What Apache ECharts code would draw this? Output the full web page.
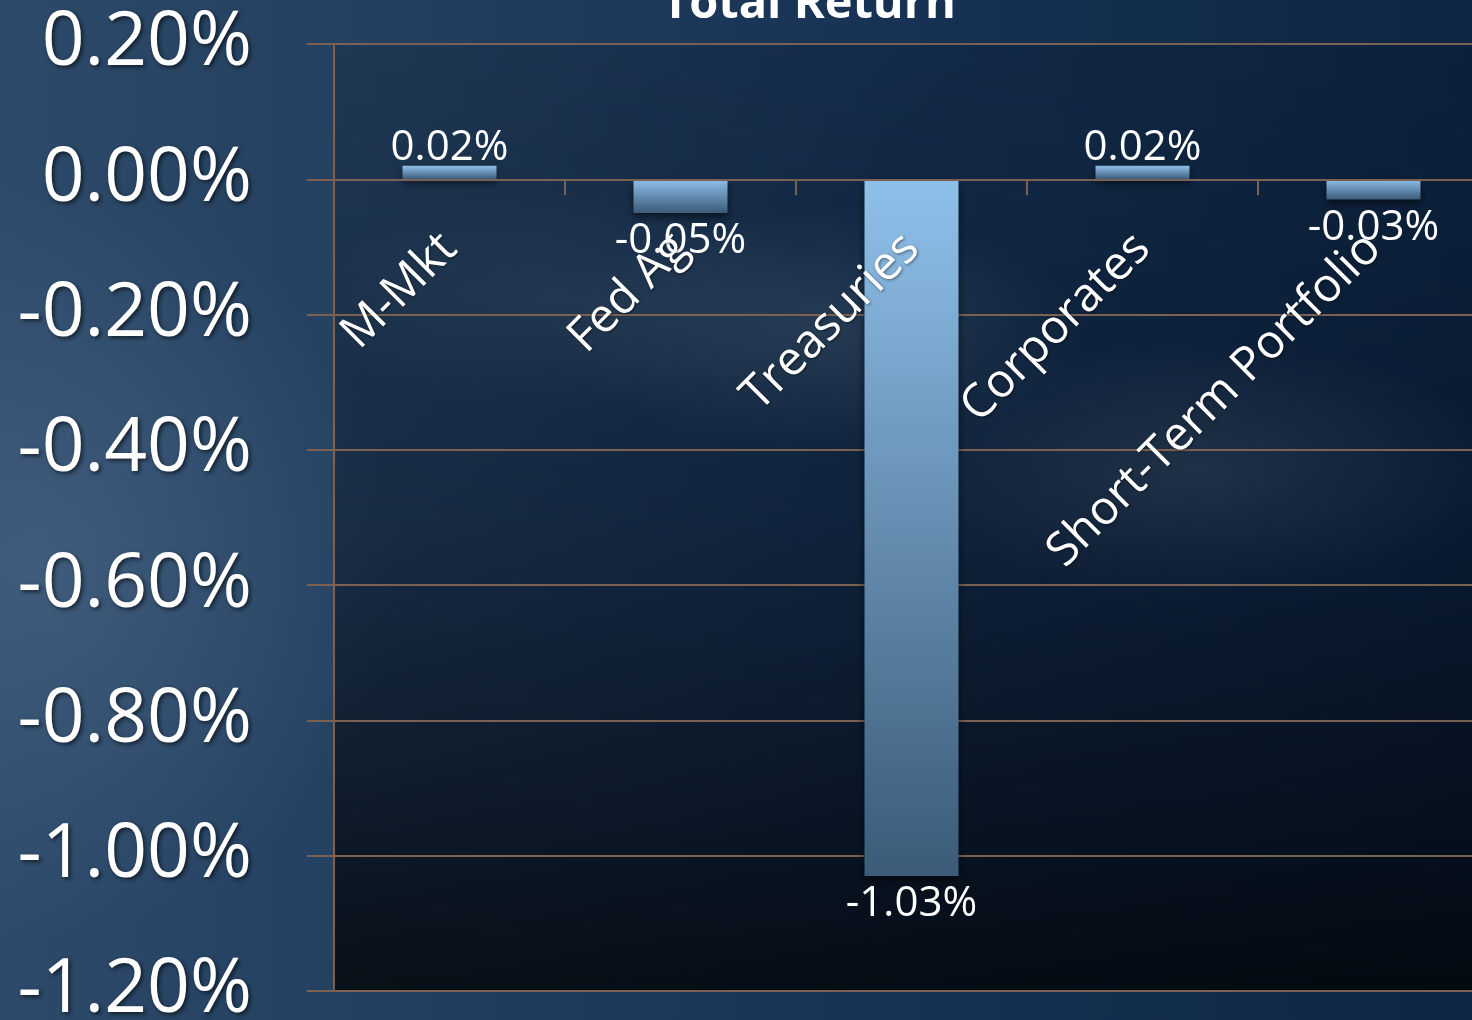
<!DOCTYPE html>
<html>
<head>
<meta charset="utf-8">
<script src="https://cdn.jsdelivr.net/npm/echarts@6/dist/echarts.min.js"></script>
<style>
html,body{margin:0;padding:0;width:1472px;height:1020px;overflow:hidden;}
#bg{position:absolute;left:0;top:0;width:1472px;height:1020px;
background:
 radial-gradient(ellipse 260px 120px at 820px 330px, rgba(95,120,145,0.40), rgba(95,120,145,0) 100%),
 radial-gradient(ellipse 300px 130px at 1200px 470px, rgba(100,120,140,0.35), rgba(100,120,140,0) 100%),
 radial-gradient(ellipse 260px 110px at 560px 300px, rgba(90,115,140,0.25), rgba(90,115,140,0) 100%),
 radial-gradient(ellipse 360px 380px at 40px 560px, rgba(80,108,140,0.55), rgba(80,108,140,0) 100%),
 linear-gradient(to right, #2d4a6a 0%, #223e5e 30%, #173254 60%, #0e2644 100%);
}
#chart{position:absolute;left:0;top:0;width:1472px;height:1020px;}
</style>
</head>
<body>
<div id="bg"></div>
<div id="chart"></div>
<script>
const categories = ['M-Mkt', 'Fed Ag', 'Treasuries', 'Corporates', 'Short-Term Portfolio'];
const totalReturn = [0.02, -0.05, -1.03, 0.02, -0.03];
const yTicks = { min: -1.2, max: 0.2, interval: 0.2 };
const titleText = 'Total Return';

const FONT = '"Open Sans", "Noto Sans", sans-serif';
const chart = echarts.init(document.getElementById('chart'), null, { renderer: 'canvas' });

const fmtPct = v => {
  if (Math.abs(v) < 1e-9) v = 0;
  return v.toFixed(2) + '%';
};

const barData = totalReturn.map(v => ({
  value: v,
  label: { position: v >= 0 ? 'top' : 'bottom' }
}));

const GRID_TOP = 44, GRID_BOTTOM = 29, H = 1020;
const gridH = H - GRID_TOP - GRID_BOTTOM;
// distance from grid bottom up to the zero line (layout only)
const zeroOffset = gridH * (0 - yTicks.min) / (yTicks.max - yTicks.min);
const LINE = '#7a6152';

chart.setOption({
  backgroundColor: 'transparent',
  title: {
    text: titleText,
    left: 804,
    textAlign: 'center',
    top: -24,
    textStyle: { color: '#ffffff', fontFamily: FONT, fontWeight: 'bold', fontSize: 47 }
  },
  grid: {
    left: 334, right: -17, top: GRID_TOP, bottom: GRID_BOTTOM,
    containLabel: false,
    outerBoundsMode: 'none',
    show: true,
    borderWidth: 0,
    backgroundColor: new echarts.graphic.LinearGradient(0, 0, 0, 1, [
      { offset: 0, color: 'rgba(2,6,14,0.15)' },
      { offset: 0.5, color: 'rgba(2,6,14,0.35)' },
      { offset: 1, color: 'rgba(0,0,0,0.75)' }
    ])
  },
  xAxis: {
    type: 'category',
    data: categories,
    offset: -zeroOffset,
    z: 5,
    axisLine: { show: true, onZero: false, lineStyle: { color: LINE, width: 2 } },
    axisTick: { show: true, length: 16, lineStyle: { color: LINE, width: 2 } },
    axisLabel: {
      rotate: 45, margin: 62, interval: 0,
      color: '#ffffff', fontFamily: FONT, fontSize: 47,
      textShadowColor: 'rgba(0,0,0,0.45)', textShadowBlur: 3, textShadowOffsetX: 1, textShadowOffsetY: 1
    },
    splitLine: { show: false }
  },
  yAxis: {
    type: 'value',
    min: yTicks.min, max: yTicks.max, interval: yTicks.interval,
    axisLine: { show: true, lineStyle: { color: LINE, width: 2 } },
    axisTick: { show: true, length: 27, lineStyle: { color: LINE, width: 2 } },
    splitLine: { show: true, lineStyle: { color: LINE, width: 2 } },
    axisLabel: {
      margin: 82,
      formatter: fmtPct,
      color: '#ffffff', fontFamily: FONT, fontSize: 75,
      textShadowColor: 'rgba(0,0,0,0.6)', textShadowBlur: 4, textShadowOffsetX: 2, textShadowOffsetY: 2
    }
  },
  series: [{
    type: 'bar',
    data: barData,
    barWidth: '40.7%',
    itemStyle: {
      color: new echarts.graphic.LinearGradient(0, 0, 0, 1, [
        { offset: 0, color: '#8fc0ea' },
        { offset: 1, color: '#3b5b78' }
      ]),
      shadowColor: 'rgba(0,0,0,0.55)', shadowBlur: 8, shadowOffsetY: 4
    },
    label: {
      show: true,
      distance: 2,
      offset: [0, 5],
      formatter: p => fmtPct(p.value),
      color: '#ffffff', fontFamily: FONT, fontSize: 42
    },
    animation: false
  }],
  animation: false
});
</script>
</body>
</html>
